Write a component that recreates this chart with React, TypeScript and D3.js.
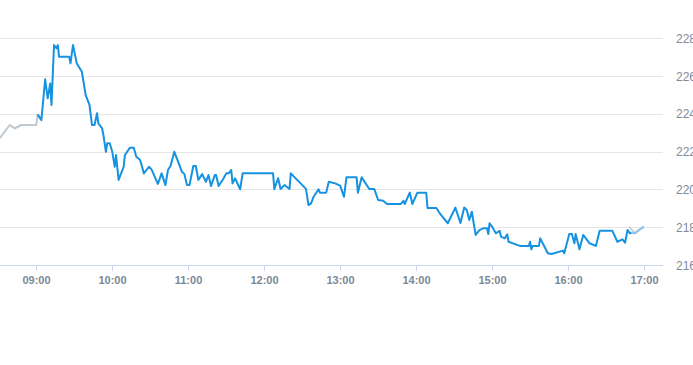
import React from 'react';
import * as d3 from 'd3';

// pre-market (gray)
const preTimes = ["08:31", "08:39", "08:43", "08:48", "09:00", "09:01"];
const preValues = [222.7, 223.41, 223.23, 223.41, 223.41, 223.97];

// regular session (blue)
const times = [
  "09:01", "09:04", "09:07", "09:09", "09:11", "09:12", "09:14", "09:16", "09:17", "09:18",
  "09:26", "09:27", "09:29", "09:32", "09:36", "09:39", "09:42", "09:44", "09:46", "09:48",
  "09:49", "09:52", "09:53", "09:55", "09:56", "09:58", "10:00", "10:02", "10:03", "10:05",
  "10:07", "10:09", "10:10", "10:14", "10:17", "10:19", "10:22", "10:25", "10:29", "10:31",
  "10:36", "10:39", "10:42", "10:44", "10:46", "10:49", "10:52", "10:55", "10:57", "10:59",
  "11:01", "11:04", "11:06", "11:08", "11:11", "11:12", "11:14", "11:16", "11:18", "11:21",
  "11:22", "11:24", "11:28", "11:30", "11:32", "11:34", "11:35", "11:37", "11:41", "11:43",
  "12:07", "12:08", "12:11", "12:13", "12:16", "12:20", "12:21", "12:33", "12:35", "12:37",
  "12:39", "12:43", "12:44", "12:49", "12:51", "12:56", "13:00", "13:03", "13:05", "13:13",
  "13:14", "13:17", "13:23", "13:27", "13:30", "13:34", "13:37", "13:48", "13:50", "13:51",
  "13:55", "13:57", "14:01", "14:08", "14:09", "14:16", "14:19", "14:25", "14:31", "14:35",
  "14:38", "14:40", "14:42", "14:44", "14:47", "14:50", "14:53", "14:56", "14:57", "14:58",
  "15:00", "15:03", "15:06", "15:07", "15:10", "15:12", "15:13", "15:22", "15:29", "15:30",
  "15:31", "15:32", "15:37", "15:38", "15:40", "15:44", "15:47", "15:56", "15:57", "16:01",
  "16:03", "16:05", "16:06", "16:09", "16:12", "16:17", "16:22", "16:25", "16:35", "16:39",
  "16:43", "16:45", "16:47", "16:49", "16:50",
];
const values = [
  223.97, 223.67, 225.83, 224.82, 225.61, 224.47, 227.64, 227.47, 227.64, 227.02,
  227.02, 226.67, 227.64, 226.67, 226.23, 224.99, 224.47, 223.41, 223.41, 224.03,
  223.5, 223.23, 222.88, 221.99, 222.44, 222.44, 221.99, 221.2, 221.82, 220.5,
  220.85, 221.2, 221.82, 222.21, 222.21, 221.73, 221.56, 220.85, 221.2, 221.06,
  220.29, 220.85, 220.23, 221.03, 221.24, 221.99, 221.47, 220.94, 220.81, 220.23,
  220.23, 221.24, 221.24, 220.5, 220.81, 220.67, 220.41, 220.76, 220.18, 220.76,
  220.76, 220.18, 220.59, 220.85, 220.85, 221.03, 220.32, 220.59, 220.01, 220.85,
  220.85, 220.02, 220.59, 220.02, 220.23, 220.02, 220.85, 220.03, 219.17, 219.26,
  219.61, 220.01, 219.83, 219.83, 220.41, 220.32, 220.2, 219.61, 220.64, 220.64,
  219.83, 220.64, 220.02, 220.02, 219.44, 219.4, 219.23, 219.23, 219.4, 219.23,
  219.83, 219.23, 219.83, 219.83, 219.02, 219.02, 218.7, 218.21, 219.04, 218.22,
  219.04, 218.91, 218.38, 218.82, 217.59, 217.85, 217.94, 217.94, 217.64, 218.21,
  218.03, 217.68, 217.81, 217.5, 217.41, 217.62, 217.23, 217.01, 217.01, 217.23,
  216.83, 217.01, 217.01, 217.41, 217.15, 216.62, 216.58, 216.76, 216.62, 217.64,
  217.64, 217.15, 217.64, 216.83, 217.59, 217.15, 217.01, 217.81, 217.81, 217.23,
  217.36, 217.18, 217.85, 217.68, 217.71,
];

// closing tail (faded blue) and after-hours (gray)
const tailTimes = ["16:50", "16:53", "16:55", "17:00"];
const tailValues = [217.71, 217.68, 217.81, 218.03];
const postTimes = ["16:48", "16:53", "17:00"];
const postValues = [218.03, 217.68, 218.03];

const hourTicks = ["09:00", "10:00", "11:00", "12:00", "13:00", "14:00", "15:00", "16:00", "17:00"];
const priceTicks = [216, 218, 220, 222, 224, 226, 228];

const W = 693;
const H = 365;
const plotRight = 663;
const plotBottom = 265;

const parse = d3.timeParse("%H:%M");

export default function App() {
  const x = d3.scaleTime()
    .domain([parse("08:31")!.getTime() + 20000, parse("17:15")!.getTime()])
    .range([0, plotRight]);
  const y = d3.scaleLinear().domain([216, 230]).range([plotBottom, 0.5]);

  const mk = (ts: string[], vs: number[]) =>
    ts.map((t, i) => [x(parse(t)!), y(vs[i])] as [number, number]);
  const line = d3.line();

  return (
    <div style={{ position: "absolute", left: 0, top: 0 }}>
      <svg width={W} height={H} style={{ display: "block", fontFamily: "'Liberation Sans', Arial, sans-serif" }}>
        <rect width={W} height={H} fill="#fff" />
        {priceTicks.slice(1).map(p => (
          <line key={p} x1={0} x2={plotRight} y1={Math.round(y(p)) + 0.5} y2={Math.round(y(p)) + 0.5} stroke="#e6e6e6" />
        ))}
        <line x1={0} x2={plotRight} y1={plotBottom + 0.5} y2={plotBottom + 0.5} stroke="#ccd6eb" />
        {hourTicks.map(h => {
          const xx = Math.round(x(parse(h)!)) + 0.5;
          return (
            <g key={h}>
              <line x1={xx} x2={xx} y1={plotBottom} y2={plotBottom + 6} stroke="#ccd6eb" />
              <text x={xx} y={plotBottom + 19} textAnchor="middle" fontSize={11} fontWeight="bold" fill="#7d8896">{h}</text>
            </g>
          );
        })}
        {priceTicks.map(p => (
          <text key={p} x={676} y={y(p) + 4.5} fontSize={12} fill="#7f8a99">{p}</text>
        ))}
        <path d={line(mk(preTimes, preValues))!} fill="none" stroke="#c0c8d0" strokeWidth={2} strokeLinejoin="round" />
        <path d={line(mk(postTimes, postValues))!} fill="none" stroke="#c8d2dc" strokeWidth={2} strokeLinejoin="round" />
        <path d={line(mk(tailTimes, tailValues))!} fill="none" stroke="#8fc3ea" strokeWidth={2} strokeLinejoin="round" />
        <path d={line(mk(times, values))!} fill="none" stroke="#1592e0" strokeWidth={2} strokeLinejoin="round" />
      </svg>
    </div>
  );
}
